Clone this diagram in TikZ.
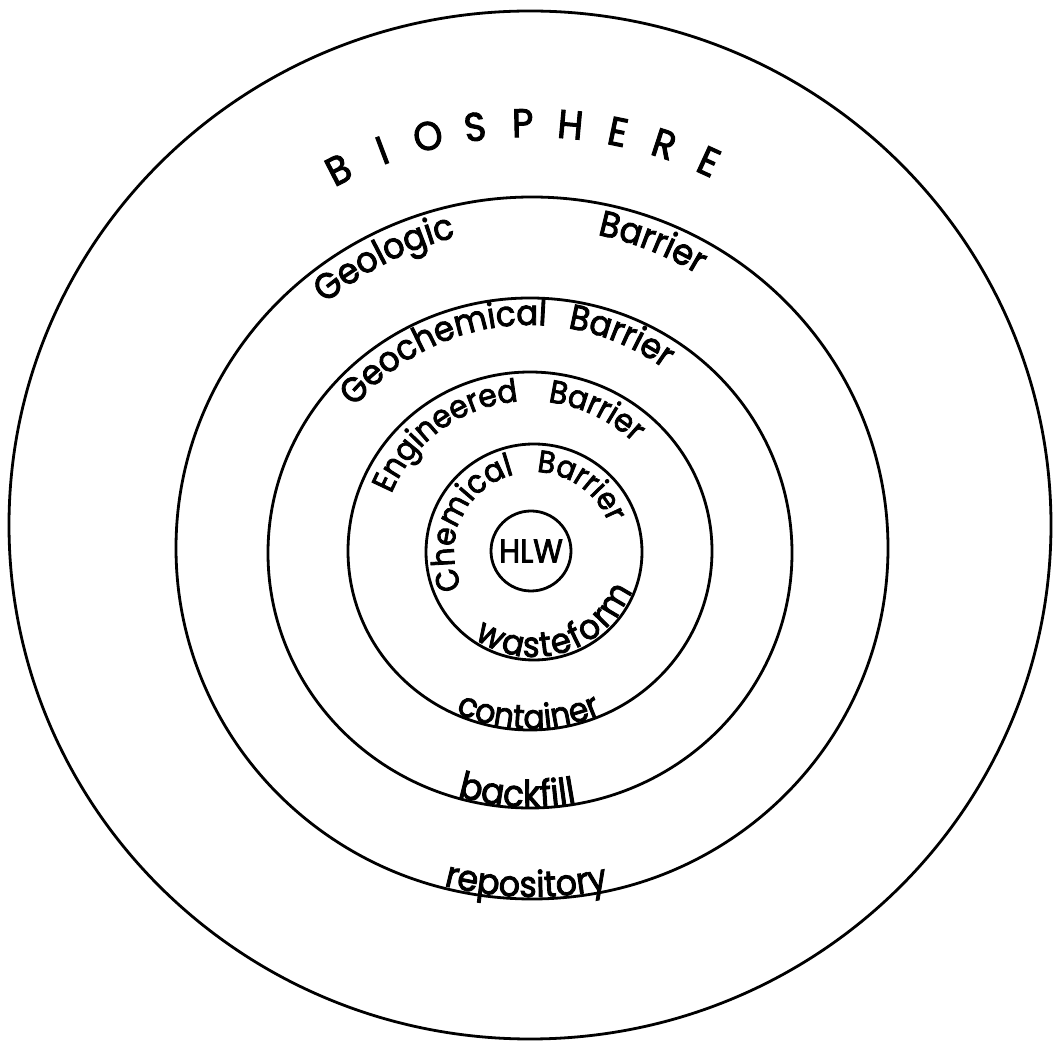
\documentclass[tikz,border=0pt]{standalone}
\usepackage{fontspec}
\setmainfont{Poppins}[FakeStretch=0.92, FakeBold=2.5]
\usetikzlibrary{decorations.text}
\newcommand\fsz[1]{\fontsize{#1}{#1}\selectfont}
\tikzset{
  ring/.style={draw=black, line width=2.8pt},
  arctext/.style={decorate, decoration={text along path, text align=center, text={#1}}},
  bioletter/.style={font=\fsz{40}, inner sep=0pt},
  wfletter/.style={font=\fsz{35}, inner sep=0pt, anchor=base},
}
\begin{document}
\begin{tikzpicture}[x=1pt,y=1pt]
\fill[white] (0,0) rectangle (1053,1042);
\useasboundingbox (0,0) rectangle (1053,1042);
\coordinate (c0) at (530,517);
\coordinate (c1) at (532,494);
\coordinate (c2) at (530,489);
\coordinate (c3) at (530,491);
\coordinate (c4) at (534,490);
\coordinate (c5) at (531,491);
% rings
\draw[ring] (c0) ellipse[x radius=521, y radius=514];
\draw[ring] (c1) ellipse[x radius=356, y radius=351];
\draw[ring] (c2) ellipse[x radius=262, y radius=255];
\draw[ring] (c3) ellipse[x radius=182, y radius=179];
\draw[ring] (c4) circle[radius=108];
\draw[ring] (c5) circle[radius=40];
\node[font=\fsz{33}, inner sep=0pt] (hlw) at (c5) {HLW};
% BIOSPHERE
\foreach \l [count=\i] in {B,I,O,S,P,H,E,R,E} {
  \pgfmathsetmacro\ang{117.1-(\i-1)*6.46}
  \path (c1) ++(\ang:425) node[bioletter, rotate=\ang-90] (bio\i) {\l};
}
% top labels
\path[arctext={|\fsz{36}|Geologic}] (c1) ++(157:320) arc[start angle=157, end angle=77, radius=320];
\path[arctext={|\fsz{36}|Barrier}] (c1) ++(108.5:320) arc[start angle=108.5, end angle=28.5, radius=320];
\path[arctext={|\fsz{35}|Geochemical}] (c2) ++(173.1:228) arc[start angle=173.1, end angle=53.1, radius=228];
\path[arctext={|\fsz{35}|Barrier}] (c2) ++(117.2:228) arc[start angle=117.2, end angle=17.2, radius=228];
\path[arctext={|\fsz{32}|Engineered}] (c3) ++(196:150) arc[start angle=196, end angle=56, radius=150];
\path[arctext={|\fsz{32}|Barrier}] (c3) ++(114.7:150) arc[start angle=114.7, end angle=14.7, radius=150];
\path[arctext={|\fsz{32}|Chemical}] (c4) ++(235.3:80) arc[start angle=235.3, end angle=75.3, radius=80];
\path[arctext={|\fsz{31}|Barrier}] (c4) ++(114.7:80) arc[start angle=114.7, end angle=-5.3, radius=80];
% bottom labels
\foreach \ch/\c [count=\i] in {w/0.43, a/1.18, s/1.75, t/2.19, e/2.68, f/3.165, o/3.665, r/4.19, m/4.88} {
  \pgfmathsetmacro\ang{-73.5+(\c-2.68)*19.5}
  \path (c4) ++(\ang:105) node[wfletter, rotate=\ang+90] (wf\i) {\ch};
}
\path[arctext={|\fsz{34}|container}] (c3) ++(-150.5:178) arc[start angle=-150.5, end angle=-30.5, radius=178];
\path[arctext={|\fsz{37}|backfill}] (c2) ++(-143:254) arc[start angle=-143, end angle=-43, radius=254];
\path[arctext={|\fsz{36}|repository}] (c1) ++(-131:349) arc[start angle=-131, end angle=-51, radius=349];
\end{tikzpicture}
\end{document}
